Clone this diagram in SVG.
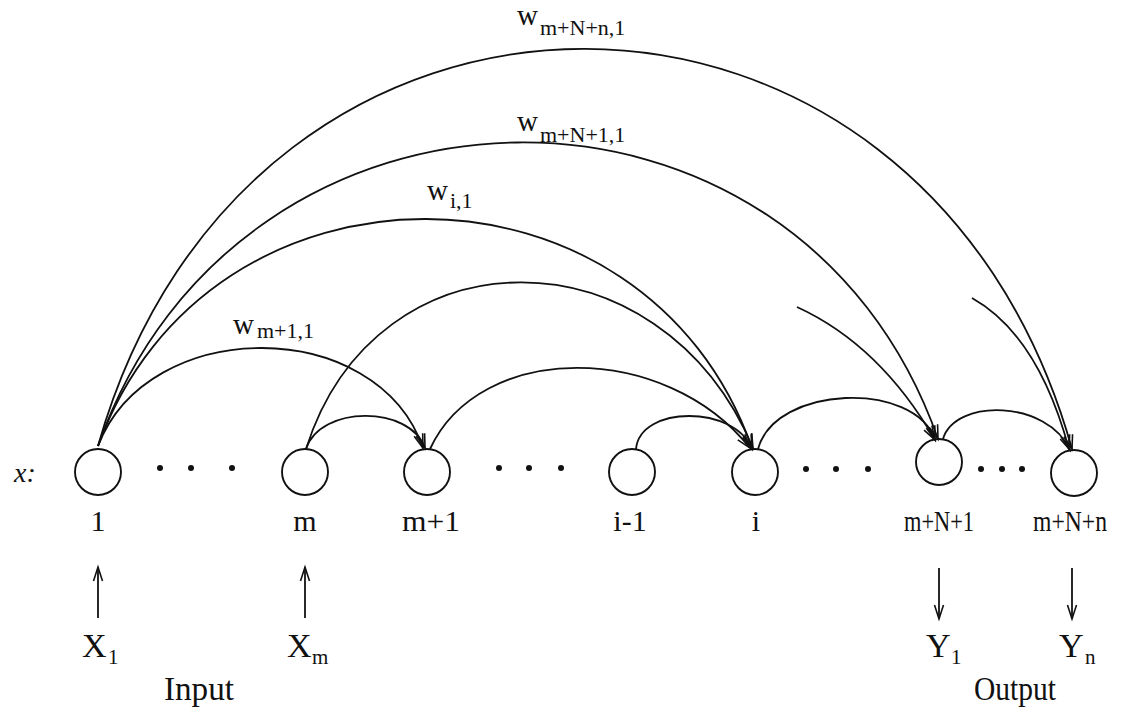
<svg xmlns="http://www.w3.org/2000/svg" width="1138" height="708" viewBox="0 0 1138 708">
<style>
  .node circle { fill: #ffffff; stroke: #111111; stroke-width: 1.9; }
  text { font-family: "Liberation Serif", "Times New Roman", serif; fill: #111111; }
  .lbl { font-size: 30px; text-anchor: middle; }
  .w { font-size: 29px; }
  .sub { font-size: 22px; }
  .big { font-size: 34px; }
  .bsub { font-size: 21px; }
  .edge { fill: none; stroke: #111111; stroke-width: 1.8; marker-end: url(#arr); }
  .dot { fill: #111111; }
</style>
<defs>
  <marker id="arr" markerUnits="userSpaceOnUse" markerWidth="20" markerHeight="14" refX="16" refY="7" orient="auto">
    <path d="M2,2.5 L16,7 L2,11.5" fill="none" stroke="#111111" stroke-width="1.6"/>
  </marker>
</defs>
<rect width="1138" height="708" fill="#ffffff"/>

<text x="14" y="482" font-size="28" font-style="italic">x:</text>

<g id="ellipses">
  <circle class="dot" cx="160" cy="468" r="3"/>
  <circle class="dot" cx="191" cy="468" r="3"/>
  <circle class="dot" cx="232" cy="468" r="3"/>
  <circle class="dot" cx="499" cy="468" r="3"/>
  <circle class="dot" cx="529" cy="468" r="3"/>
  <circle class="dot" cx="561" cy="468" r="3"/>
  <circle class="dot" cx="806" cy="469" r="3"/>
  <circle class="dot" cx="836" cy="469" r="3"/>
  <circle class="dot" cx="868" cy="469" r="3"/>
  <circle class="dot" cx="981" cy="469" r="3"/>
  <circle class="dot" cx="1002" cy="469" r="3"/>
  <circle class="dot" cx="1022" cy="469" r="3"/>
</g>

<g id="node-1" class="node">
  <circle cx="98" cy="472" r="23"/>
  <text class="lbl" x="98" y="531">1</text>
</g>
<g id="node-m" class="node">
  <circle cx="305" cy="472" r="23"/>
  <text class="lbl" x="305" y="531">m</text>
</g>
<g id="node-m1" class="node">
  <circle cx="427" cy="472" r="23"/>
  <text class="lbl" x="431" y="531" textLength="58" lengthAdjust="spacingAndGlyphs">m+1</text>
</g>
<g id="node-i-1" class="node">
  <circle cx="632" cy="472" r="23"/>
  <text class="lbl" x="630" y="531">i-1</text>
</g>
<g id="node-i" class="node">
  <circle cx="755" cy="472" r="23"/>
  <text class="lbl" x="756" y="531">i</text>
</g>
<g id="node-mN1" class="node">
  <circle cx="939" cy="462" r="23"/>
  <text class="lbl" x="939" y="531" textLength="70" lengthAdjust="spacingAndGlyphs">m+N+1</text>
</g>
<g id="node-mNn" class="node">
  <circle cx="1074" cy="473" r="23"/>
  <text class="lbl" x="1070" y="531" textLength="74" lengthAdjust="spacingAndGlyphs">m+N+n</text>
</g>

<g id="connectors">
  <path class="edge" d="M98,446 C248,-85 923,-83 1072,449"/>
  <path class="edge" d="M98,446 C238,47 797,38 938,439"/>
  <path class="edge" d="M98,446 C208,142 645,144 752,448"/>
  <path class="edge" d="M98,446 C148,315 377,315 423,448"/>
  <path class="edge" d="M306,449 C320,405 410,405 425,448"/>
  <path class="edge" d="M306,449 C376,227 660,227 753,448"/>
  <path class="edge" d="M430,449 C480,341 665,341 750,448"/>
  <path class="edge" d="M636,449 C640,405 735,405 752,449"/>
  <path class="edge" d="M758,449 C775,385 915,380 935,440"/>
  <path class="edge" d="M943,439 C955,398 1048,400 1070,450"/>
  <path class="edge" d="M797,307 Q880,345 935,440"/>
  <path class="edge" d="M972,298 Q1038,335 1069,449"/>
  <path class="edge" d="M98,618 L98,567"/>
  <path class="edge" d="M305,618 L305,567"/>
  <path class="edge" d="M939,568 L939,619"/>
  <path class="edge" d="M1072,568 L1072,619"/>
</g>

<g id="weight-labels">
  <text><tspan class="w" x="517" y="25">w</tspan><tspan class="sub" x="540" y="35">m+N+n,1</tspan></text>
  <text><tspan class="w" x="517" y="131">w</tspan><tspan class="sub" x="540" y="142">m+N+1,1</tspan></text>
  <text><tspan class="w" x="427" y="200">w</tspan><tspan class="sub" x="450" y="208">i,1</tspan></text>
  <text><tspan class="w" x="233" y="334">w</tspan><tspan class="sub" x="257" y="338">m+1,1</tspan></text>
</g>

<g id="io-labels">
  <text><tspan class="big" x="82" y="657">X</tspan><tspan class="bsub" x="108" y="664">1</tspan></text>
  <text><tspan class="big" x="287" y="657">X</tspan><tspan class="bsub" x="312" y="664">m</tspan></text>
  <text><tspan class="big" x="926" y="657">Y</tspan><tspan class="bsub" x="951" y="664">1</tspan></text>
  <text><tspan class="big" x="1059" y="657">Y</tspan><tspan class="bsub" x="1085" y="664">n</tspan></text>
  <text class="big" x="164" y="700" textLength="70" lengthAdjust="spacingAndGlyphs">Input</text>
  <text class="big" x="974" y="700" textLength="82" lengthAdjust="spacingAndGlyphs">Output</text>
</g>
</svg>
